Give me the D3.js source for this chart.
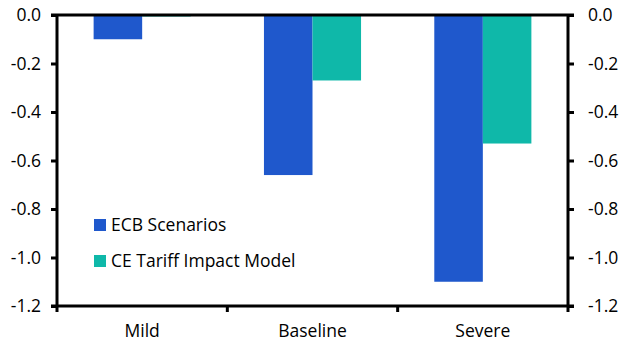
<!DOCTYPE html>
<html>
<head>
<meta charset="utf-8">
<script src="https://cdn.jsdelivr.net/npm/d3@7"></script>
<style>
  body { margin: 0; background: #fff; }
  text { font-family: "Open Sans", sans-serif; fill: #000; }
</style>
</head>
<body>
<div id="chart"></div>
<script>
// Data
const categories = ["Mild", "Baseline", "Severe"];
const seriesNames = ["ECB Scenarios", "CE Tariff Impact Model"];
const ecbValues = [-0.1, -0.66, -1.1];
const ceValues = [-0.006, -0.27, -0.53];
const yTicks = [0, -0.2, -0.4, -0.6, -0.8, -1.0, -1.2];

const colors = ["#1f58cc", "#0fb8a9"];
const fontSize = "17.5px";

const W = 630, H = 354;
const margin = { top: 15, right: 62, bottom: 48, left: 57 };
const width = W - margin.left - margin.right,
      height = H - margin.top - margin.bottom;

const svg = d3.select("#chart").append("svg")
    .attr("width", W).attr("height", H);
const g = svg.append("g")
    .attr("transform", `translate(${margin.left},${margin.top})`);

const x0 = d3.scaleBand()
    .domain(categories)
    .range([0, width])
    .paddingInner(0.43)
    .paddingOuter(0.215);

const x1 = d3.scaleBand()
    .domain(seriesNames)
    .range([0, x0.bandwidth()]);

const y = d3.scaleLinear()
    .domain([0, -1.2])
    .range([0, height]);

const rows = categories.map((c, i) => ({ cat: c, vals: [ecbValues[i], ceValues[i]] }));

// Bars
const groups = g.selectAll(".grp")
    .data(rows)
    .enter().append("g")
    .attr("transform", d => `translate(${x0(d.cat)},0)`);

groups.selectAll("rect")
    .data(d => d.vals.map((v, j) => ({ key: seriesNames[j], v: v, j: j })))
    .enter().append("rect")
    .attr("x", d => x1(d.key))
    .attr("y", d => y(0))
    .attr("width", x1.bandwidth())
    .attr("height", d => y(d.v) - y(0))
    .attr("fill", d => colors[d.j]);

// Axes
const fmt = d => d3.format(".1f")(d).replace("−", "-");

const left = g.append("g")
    .call(d3.axisLeft(y).tickValues(yTicks).tickFormat(fmt).tickSize(6).tickPadding(10));
const right = g.append("g")
    .attr("transform", `translate(${width},0)`)
    .call(d3.axisRight(y).tickValues(yTicks).tickFormat(fmt).tickSize(6).tickPadding(14));
[left, right].forEach(a => {
  a.selectAll("path, line").attr("stroke", "#000").attr("stroke-width", 3);
  a.select(".domain").attr("d", `M0,0V${height}`);
  a.selectAll("text").style("font-size", fontSize).attr("fill", "#000");
});

// zero line
g.append("line")
    .attr("x1", -6).attr("x2", width + 6)
    .attr("y1", y(0)).attr("y2", y(0))
    .attr("stroke", "#000").attr("stroke-width", 3);

// bottom axis
const xAxis = g.append("g")
    .attr("transform", `translate(0,${height})`)
    .call(d3.axisBottom(x0).tickSize(0).tickPadding(19));
xAxis.select(".domain").attr("stroke", "#000").attr("stroke-width", 3)
    .attr("d", `M-6,0H${width + 6}`);
xAxis.selectAll("text").style("font-size", fontSize).attr("fill", "#000");

// Category boundary ticks on bottom axis
const boundaries = d3.range(categories.length + 1).map(i => i * x0.step());
g.selectAll(".btick")
    .data(boundaries)
    .enter().append("line")
    .attr("x1", d => d).attr("x2", d => d)
    .attr("y1", height).attr("y2", height + 6)
    .attr("stroke", "#000").attr("stroke-width", 3);

// Legend
const legend = g.append("g").attr("transform", "translate(37,210)");
seriesNames.forEach((s, i) => {
  const row = legend.append("g").attr("transform", `translate(0,${i * 36})`);
  row.append("rect")
      .attr("x", 0).attr("y", -6)
      .attr("width", 12).attr("height", 12)
      .attr("fill", colors[i]);
  row.append("text")
      .attr("x", 17).attr("y", 0)
      .attr("dy", "0.35em")
      .style("font-size", fontSize)
      .text(s);
});
</script>
</body>
</html>
